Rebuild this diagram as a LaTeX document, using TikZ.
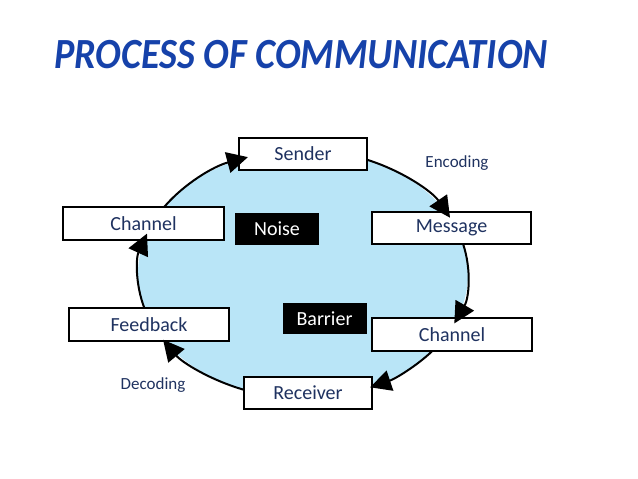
\documentclass[tikz,border=0pt]{standalone}
\usepackage{fontspec}
\setmainfont{Carlito}
\usepackage{xcolor}
\usepackage{tikz}
\usetikzlibrary{arrows.meta, calc}

\begin{document}
\begin{tikzpicture}[x=1pt, y=1pt,
    box/.style={draw=black, line width=1.4pt, fill=white, inner sep=0pt,
        minimum height=32pt, text=textnavy, font=\fontsize{20}{24}\selectfont},
    blackbox/.style={fill=black, text=white, inner sep=0pt, minimum width=84pt,
        minimum height=32pt, font=\fontsize{20}{24}\selectfont},
    flow/.style={-{Triangle[length=21pt, width=21pt]}, line width=2pt},
    ell/.style={x radius=165pt, y radius=124pt}]
    % Màu dùng trong hình
    \definecolor{titleblue}{RGB}{22, 66, 170}  % chữ tiêu đề
    \definecolor{textnavy}{RGB}{31, 50, 96}    % chữ trong hộp
    \definecolor{fillblue}{RGB}{185, 229, 247} % nền elip

    \useasboundingbox (0,0) rectangle (638,-479);

    % 1. Tiêu đề
    \node[text=titleblue, xscale=0.89, transform shape,
        font=\fontsize{43}{50}\selectfont\bfseries\itshape]
        (title) at (301,-55) {PROCESS OF COMMUNICATION};

    % 2. Nền elip
    \coordinate (centre) at (303,-274);
    \fill[fillblue] (centre) ellipse [ell];

    % 3. Các hộp
    \node[box, minimum width=128pt] (sender) at (303,-154) {Sender};
    \node[box, minimum width=159pt] (message) at (451.5,-228) {Message};
    \node[box, minimum width=160pt, minimum height=33pt] (chanR) at (452,-334.5) {Channel};
    \node[box, minimum width=128pt] (receiver) at (308,-393) {Receiver};
    \node[box, minimum width=160pt, minimum height=33pt] (feedback) at (149,-324.5) {Feedback};
    \node[box, minimum width=161pt, minimum height=33pt] (chanL) at (143.5,-223.5) {Channel};

    \node[blackbox] (noise) at (277,-229) {Noise};
    \node[blackbox, minimum height=31pt] (barrier) at (324.5,-318.5) {Barrier};

    % 4. Các cung mũi tên theo chiều kim đồng hồ
    \coordinate (a1) at ($(centre)+(147.3:165pt and 124pt)$);
    \coordinate (a2) at ($(centre)+(67.2:165pt and 124pt)$);
    \coordinate (a3) at ($(centre)+(14:165pt and 124pt)$);
    \coordinate (a4) at ($(centre)+(-38.4:165pt and 124pt)$);
    \coordinate (a5) at ($(centre)+(-111:165pt and 124pt)$);
    \coordinate (a6) at ($(centre)+(-164.1:165pt and 124pt)$);
    \draw[flow] (a1) arc[start angle=147.3, end angle=109.5, ell];
    \draw[flow] (a2) arc[start angle=67.2, end angle=27, ell];
    \draw[flow] (a3) arc[start angle=14, end angle=-23.5, ell];
    \draw[flow] (a4) arc[start angle=-38.4, end angle=-66, ell];
    \draw[flow] (a5) arc[start angle=-111, end angle=-148, ell];
    \draw[flow] (a6) arc[start angle=-164.1, end angle=-199, ell];

    % 5. Nhãn mã hóa, giải mã
    \node[text=textnavy, font=\fontsize{17}{20}\selectfont] (enc) at (457,-163) {Encoding};
    \node[text=textnavy, font=\fontsize{17}{20}\selectfont] (dec) at (153,-385) {Decoding};
\end{tikzpicture}
\end{document}
